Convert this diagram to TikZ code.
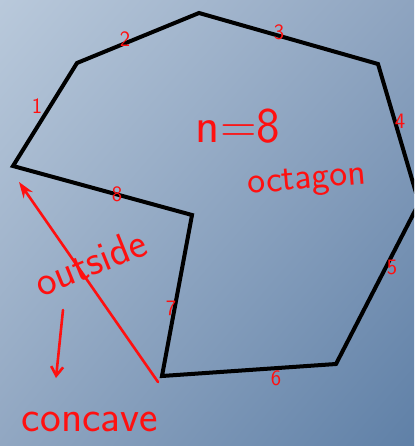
\documentclass[tikz,border=0pt]{standalone}
\usetikzlibrary{arrows.meta,shadings}
\definecolor{bgUL}{HTML}{B9C9DB}
\definecolor{bgUR}{HTML}{8EA4C0}
\definecolor{bgLL}{HTML}{91A7C2}
\definecolor{bgLR}{HTML}{5F80A7}
\definecolor{ink}{HTML}{FF1010}
\begin{document}
\begin{tikzpicture}[x=1pt,y=-1pt,
  edge/.style={line width=4pt,line join=miter,black},
  hand/.style={text=ink,font=\sffamily,inner sep=0pt},
  numlab/.style={hand,font=\sffamily\fontsize{22}{22}\selectfont},
  penline/.style={draw=ink,line width=2.6pt,line cap=round}]
\useasboundingbox (0,0) rectangle (414,446);
\shade[upper left=bgUL,upper right=bgUR,lower left=bgLL,lower right=bgLR] (0,0) rectangle (414,446);
% vertices
\coordinate (A) at (13,166);
\coordinate (B) at (77,63);
\coordinate (C) at (199,13);
\coordinate (D) at (378,64);
\coordinate (E) at (419,203);
\coordinate (F) at (336,364);
\coordinate (G) at (162,376);
\coordinate (H) at (192,215);
\begin{scope}
\clip (0,0) rectangle (414,446);
\draw[edge] (A) -- (B) -- (C) -- (D) -- (E) -- (F) -- (G) -- (H) -- cycle;
\end{scope}
% side numbers
\node[numlab] (n1) at (37,106) {1};
\node[numlab] (n2) at (125,39) {2};
\node[numlab] (n3) at (279,32) {3};
\node[numlab] (n4) at (400,121) {4};
\node[numlab] (n5) at (392,267) {5};
\node[numlab] (n6) at (276,378) {6};
\node[numlab] (n7) at (171,308) {7};
\node[numlab] (n8) at (117,194) {8};
% labels
\node[hand,font=\sffamily\fontsize{50}{50}\selectfont] (nn) at (238,126) {n=8};
\node[hand,font=\sffamily\fontsize{38}{38}\selectfont,rotate=5] (oct) at (307,182) {octagon};
\node[hand,font=\sffamily\fontsize{42}{42}\selectfont,rotate=22] (out) at (90,262) {outside};
\node[hand,font=\sffamily\fontsize{44}{44}\selectfont] (conc) at (90,422) {concave};
% arrows
\coordinate (tail) at (158,382);
\coordinate (tip) at (19,182);
\draw[penline,-{Stealth[length=16pt,width=11pt]}] (tail) -- (tip);
\coordinate (dtail) at (63,310);
\coordinate (dtip) at (56,378);
\draw[penline,-{Straight Barb[length=9pt,width=12pt]}] (dtail) -- (dtip);
\end{tikzpicture}
\end{document}
